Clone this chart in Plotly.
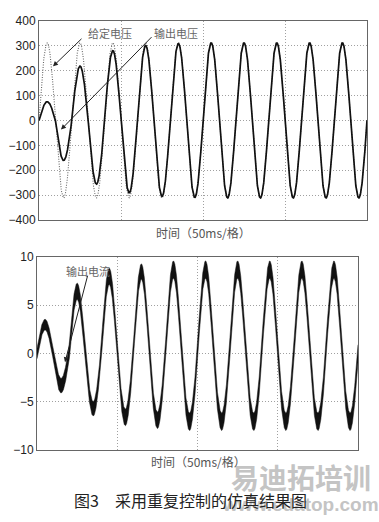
import numpy as np
import plotly.graph_objects as go

# ---------------- data ----------------
time_range_ms = [0, 200]          # 4 divisions x 50 ms
grid_ms = [0, 50, 100, 150, 200]
freq_hz = 50

# extrema of each 10 ms half-cycle (20 half-cycles)
ref_voltage_peaks = [311, -311, 311, -311, 311, -311, 311, -311, 311, -311,
                     311, -311, 311, -311, 311, -311, 311, -311, 311, -311]
out_voltage_peaks = [75, -161, 218, -256, 280, -291, 300, -305, 308, -309,
                     311, -311, 311, -311, 311, -311, 311, -311, 311, -311]
out_current_peaks = [3.0, -3.35, 6.45, -5.75, 8.0, -6.65, 8.5, -6.95, 8.7, -7.1,
                     8.7, -7.1, 8.7, -7.1, 8.7, -7.1, 8.7, -7.1, 8.7, -7.1]
current_ripple = [0.55, 0.75, 0.85, 0.75, 0.85, 0.85, 0.8, 0.85, 0.9, 0.9,
                  0.9, 0.9, 0.9, 0.9, 0.9, 0.9, 0.9, 0.9, 0.9, 0.9]

v_ticks = [-400, -300, -200, -100, 0, 100, 200, 300, 400]
i_ticks = [-10, -5, 0, 5, 10]

x_title = "时间（50ms/格）"
caption = "图3　采用重复控制的仿真结果图"

# ---------------- waveforms built from the half-cycle extrema ----------------
t = np.linspace(time_range_ms[0], time_range_ms[1], 4001)
half = np.minimum((t // 10).astype(int), 19)
s = np.sin(2 * np.pi * freq_hz * t / 1000.0)

ref_v = np.abs(np.array(ref_voltage_peaks))[half] * s
out_v = np.abs(np.array(out_voltage_peaks))[half] * s
cur = np.abs(np.array(out_current_peaks))[half] * s
rip = np.array(current_ripple)[half]
cur_hi = cur + rip
cur_lo = cur - rip

W, H = 379, 522
def px(x):
    return x / W
def py(y):
    return 1 - y / H

fig = go.Figure()
fig.add_trace(go.Scatter(x=t, y=ref_v, mode="lines", xaxis="x", yaxis="y",
                         line=dict(color="#666666", width=1.1, dash="1px,1.5px"), showlegend=False))
fig.add_trace(go.Scatter(x=t, y=out_v, mode="lines", xaxis="x", yaxis="y",
                         line=dict(color="#111111", width=1.7), showlegend=False))
fig.add_trace(go.Scatter(x=t, y=cur_hi, mode="lines", xaxis="x2", yaxis="y2",
                         line=dict(color="#111111", width=0.5), showlegend=False))
fig.add_trace(go.Scatter(x=t, y=cur_lo, mode="lines", xaxis="x2", yaxis="y2",
                         line=dict(color="#111111", width=0.5), fill="tonexty",
                         fillcolor="#111111", showlegend=False))

axis_common = dict(showline=True, linecolor="#666666", linewidth=1, mirror=True,
                   showgrid=True, gridcolor="#a0a0a0", griddash="1px,2px", gridwidth=1,
                   zeroline=False, ticks="", tickfont=dict(family="Liberation Sans, Arial", size=12, color="#222222"))

fig.update_layout(
    width=W, height=H, margin=dict(l=0, r=0, t=0, b=0),
    paper_bgcolor="white", plot_bgcolor="white",
    xaxis=dict(domain=[px(39), px(367)], range=time_range_ms, tickvals=grid_ms,
               showticklabels=False, anchor="y", **axis_common),
    yaxis=dict(domain=[py(219), py(14)], range=[-400, 400], tickvals=v_ticks,
               anchor="x", **axis_common),
    xaxis2=dict(domain=[px(37), px(358)], range=time_range_ms, tickvals=grid_ms,
                showticklabels=False, anchor="y2", **axis_common),
    yaxis2=dict(domain=[py(455), py(257)], range=[-10, 10], tickvals=i_ticks,
                anchor="x2", **axis_common),
)

label_font = dict(family="Noto Sans CJK SC", size=11, color="#666666")
ann = []
def text_at(text, x, y, font):
    ann.append(dict(text=text, x=px(x), y=py(y), xref="paper", yref="paper", showarrow=False,
                    xanchor="center", yanchor="middle", font=font))

# watermark (behind caption)
text_at("<b>易迪拓培训</b>", 301, 483, dict(family="Noto Sans CJK SC", size=28, color="#c4c4c4"))
text_at("<b>www.edatop.com</b>", 300, 511, dict(family="Liberation Sans, Arial", size=19, color="#c4c4c4"))
# axis titles
text_at(x_title, 203, 232, dict(family="Noto Sans CJK SC", size=12, color="#555555"))
text_at(x_title, 198, 467, dict(family="Noto Sans CJK SC", size=12, color="#555555"))
# labels with arrows
text_at("给定电压", 110, 27, label_font)
text_at("输出电压", 176, 27, label_font)
text_at("输出电流", 88, 271, label_font)
for (hx, hy, tx, ty) in [(53, 61, 83, 32), (61, 126, 153, 32), (65, 365, 88, 277)]:
    ann.append(dict(text="", x=px(hx), y=py(hy), ax=tx - hx, ay=ty - hy, xref="paper", yref="paper",
                    axref="pixel", ayref="pixel", showarrow=True, arrowhead=2, arrowsize=1,
                    arrowwidth=1, arrowcolor="#222222"))
# caption
text_at(caption, 190, 507, dict(family="Noto Sans CJK SC", size=16, color="#222222"))
fig.update_layout(annotations=ann)

fig.write_html("out.html", config={"displayModeBar": False},
               post_script="document.body.style.margin='0';document.body.style.overflow='hidden';")
